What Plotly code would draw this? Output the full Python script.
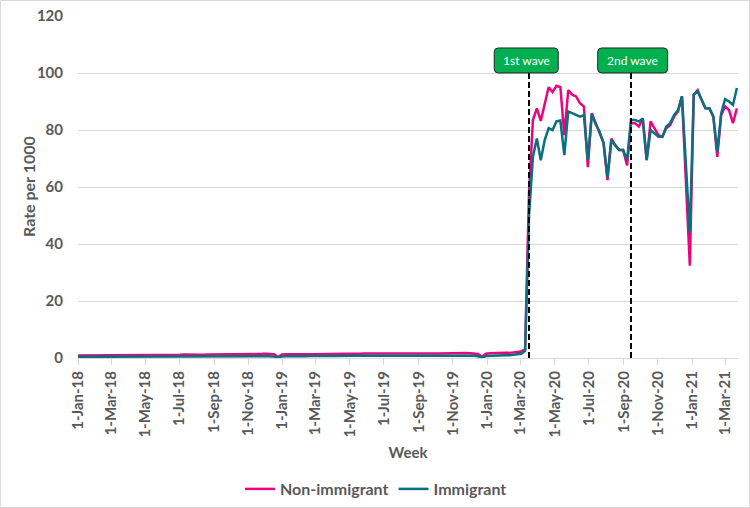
import pandas as pd
import plotly.graph_objects as go

# ---- data ----
week_start = "2018-01-01"
n_weeks = 169
weeks = pd.date_range(week_start, periods=n_weeks, freq="7D")

non_immigrant = [
    0.9, 0.9, 0.95, 0.9, 0.95, 1.0, 0.95, 1.0, 1.0, 0.95,
    1.0, 1.0, 1.05, 1.0, 1.05, 1.0, 1.05, 1.1, 1.05, 1.1,
    1.1, 1.05, 1.1, 1.15, 1.1, 1.1, 1.15, 1.2, 1.15, 1.1,
    1.15, 1.2, 1.15, 1.2, 1.2, 1.25, 1.2, 1.2, 1.25, 1.3,
    1.25, 1.3, 1.3, 1.35, 1.3, 1.35, 1.4, 1.45, 1.5, 1.45,
    1.3, 0.3,
    1.2, 1.35, 1.3, 1.3, 1.25, 1.3, 1.35, 1.3,
    1.3, 1.35, 1.4, 1.35, 1.4, 1.35, 1.4, 1.45, 1.5, 1.45,
    1.4, 1.45, 1.5, 1.55, 1.5, 1.45, 1.5, 1.55, 1.6, 1.55,
    1.5, 1.5, 1.55, 1.5, 1.55, 1.6, 1.55, 1.5, 1.55, 1.6,
    1.6, 1.55, 1.6, 1.65, 1.6, 1.65, 1.7, 1.65, 1.7, 1.75,
    1.7, 1.6, 1.4, 0.4,
    1.5, 1.7, 1.8, 1.75, 1.8, 1.85, 1.8, 1.9, 2.0, 2.3,
    3.0,
    58, 83.5, 87.6, 83.2, 88.8, 95, 93.3, 95.5, 95, 78.2,
    94, 92.4, 91.8, 89.4, 88.2, 67, 85.9, 82.4, 79.6, 75.5,
    62.4, 77, 74.7, 73, 73, 67.6, 82.4, 82.4, 81.2, 84,
    69.4, 83, 80.6, 78.2, 77.6, 80.6, 81.8, 84.7, 86.5, 91.8,
    62, 32.4, 92.4, 94, 90.6, 87.6, 87.6, 84.7, 70.6, 85.3,
    88.2, 87, 82.4, 87.6,
]

immigrant = [
    0.4, 0.4, 0.45, 0.4, 0.45, 0.45, 0.4, 0.45, 0.5, 0.45,
    0.45, 0.5, 0.5, 0.45, 0.5, 0.5, 0.5, 0.55, 0.5, 0.5,
    0.55, 0.5, 0.55, 0.55, 0.5, 0.55, 0.6, 0.55, 0.55, 0.5,
    0.55, 0.6, 0.55, 0.6, 0.6, 0.6, 0.55, 0.6, 0.65, 0.6,
    0.6, 0.65, 0.6, 0.65, 0.65, 0.6, 0.65, 0.7, 0.7, 0.65,
    0.5, 0.0,
    0.55, 0.65, 0.6, 0.65, 0.6, 0.65, 0.65, 0.7,
    0.65, 0.7, 0.7, 0.65, 0.7, 0.7, 0.75, 0.7, 0.75, 0.7,
    0.7, 0.75, 0.75, 0.8, 0.75, 0.7, 0.75, 0.8, 0.8, 0.75,
    0.75, 0.8, 0.8, 0.75, 0.8, 0.85, 0.8, 0.75, 0.8, 0.85,
    0.85, 0.8, 0.85, 0.85, 0.8, 0.85, 0.9, 0.85, 0.9, 0.9,
    0.85, 0.8, 0.6, 0.1,
    0.7, 0.8, 0.9, 0.9, 0.9, 1.0, 1.0, 1.1, 1.2, 1.5,
    2.5,
    50, 70.6, 77, 69.4, 76.5, 80.6, 80, 83, 83.3, 71.2,
    86.5, 85.9, 85.3, 84.7, 85.2, 69.4, 85.5, 82, 79.4, 75.5,
    63.5, 76.5, 74.5, 73, 73, 69.4, 83.5, 83.5, 83, 84,
    69.4, 80, 78.8, 77.6, 77.6, 81.2, 82.4, 85.3, 87, 91.8,
    68, 44, 92.4, 93.5, 90.6, 87.6, 87.6, 84.7, 72.4, 85.9,
    90.8, 90, 88.8, 94.7,
]

wave_dates = ["2020-03-16", "2020-09-14"]
wave_labels = ["1st wave", "2nd wave"]
wave_box_dates = ["2020-03-11", "2020-09-17"]
wave_box_widths = [64, 70]

x_range = ["2018-01-01", "2021-03-24"]
y_ticks = [0, 20, 40, 60, 80, 100, 120]

# ---- style ----
PINK = "#E8067F"
TEAL = "#0A6F7E"
GREEN = "#00B050"
GRID = "#D9D9D9"
TXT = "#595959"
FONT = "Lato"

W, H = 750, 508
ML, MR, MT, MB = 78, 12, 16, 150

fig = go.Figure()
fig.add_trace(go.Scatter(x=weeks, y=non_immigrant, mode="lines", name="Non-immigrant",
                         line=dict(color=PINK, width=2.5)))
fig.add_trace(go.Scatter(x=weeks, y=immigrant, mode="lines", name="Immigrant",
                         line=dict(color=TEAL, width=2.5)))

shapes = []
annotations = []
for d, lab, bd, bw in zip(wave_dates, wave_labels, wave_box_dates, wave_box_widths):
    shapes.append(dict(type="line", xref="x", yref="y", x0=d, x1=d, y0=0, y1=100,
                       line=dict(color="black", width=2, dash="6px,3px")))
    hw, hh, r = bw / 2, 12.5, 4
    path = (f"M {-hw + r},{-hh} L {hw - r},{-hh} Q {hw},{-hh} {hw},{-hh + r} "
            f"L {hw},{hh - r} Q {hw},{hh} {hw - r},{hh} L {-hw + r},{hh} "
            f"Q {-hw},{hh} {-hw},{hh - r} L {-hw},{-hh + r} Q {-hw},{-hh} {-hw + r},{-hh} Z")
    shapes.append(dict(type="path", xref="x", yref="y", xsizemode="pixel", ysizemode="pixel",
                       xanchor=bd, yanchor=104.4, path=path,
                       fillcolor=GREEN, line=dict(color="#262626", width=1)))
    annotations.append(dict(x=bd, y=104.4, xref="x", yref="y", text=lab, showarrow=False,
                            font=dict(family=FONT, size=12, color="white"),
                            xanchor="center", yanchor="middle"))

pw, ph = W - ML - MR, H - MT - MB

# y-axis title placed as text at x = 28 px
annotations.append(dict(x=(28 - ML) / pw, y=0.5, xref="paper", yref="paper",
                        text="Rate per 1000", textangle=-90, showarrow=False,
                        xanchor="center", yanchor="middle",
                        font=dict(family=FONT, size=16, color=TXT, weight="bold")))

shapes.append(dict(type="rect", xref="paper", yref="paper",
                   x0=(0.5 - ML) / pw, x1=(W - 0.5 - ML) / pw,
                   y0=-(MB - 0.5) / ph, y1=(ph + MT - 0.5) / ph,
                   line=dict(color=GRID, width=1), fillcolor="rgba(0,0,0,0)", layer="below"))

fig.update_layout(
    width=W, height=H,
    margin=dict(l=ML, r=MR, t=MT, b=MB, autoexpand=False),
    paper_bgcolor="white", plot_bgcolor="white",
    font=dict(family=FONT, color=TXT),
    showlegend=True,
    legend=dict(orientation="h", xref="container", yref="container",
                x=376 / W, y=1 - 489 / H, xanchor="center", yanchor="middle",
                font=dict(family=FONT, size=16, color=TXT, weight="bold"),
                itemwidth=30, tracegroupgap=0),
    shapes=shapes, annotations=annotations,
    xaxis=dict(type="date", range=x_range, tick0="2018-01-01", dtick="M2",
               tickformat="%-d-%b-%y", tickangle=-90,
               tickfont=dict(family=FONT, size=15, color=TXT, weight="bold"),
               ticks="outside", ticklen=6, tickcolor=GRID,
               showline=True, linecolor=GRID, linewidth=1,
               showgrid=False, zeroline=False, automargin=False,
               title=dict(text="Week", standoff=10,
                          font=dict(family=FONT, size=15, color=TXT, weight="bold"))),
    yaxis=dict(range=[0, 120], tickvals=y_ticks, ticks="",
               tickfont=dict(family=FONT, size=15, color=TXT, weight="bold"),
               showgrid=True, gridcolor=GRID, gridwidth=1, zeroline=False,
               showline=False, automargin=False, ticklabelstandoff=14),
)

fig.write_html("out.html", config={"displayModeBar": False},
               post_script="document.body.style.margin='0px';")
